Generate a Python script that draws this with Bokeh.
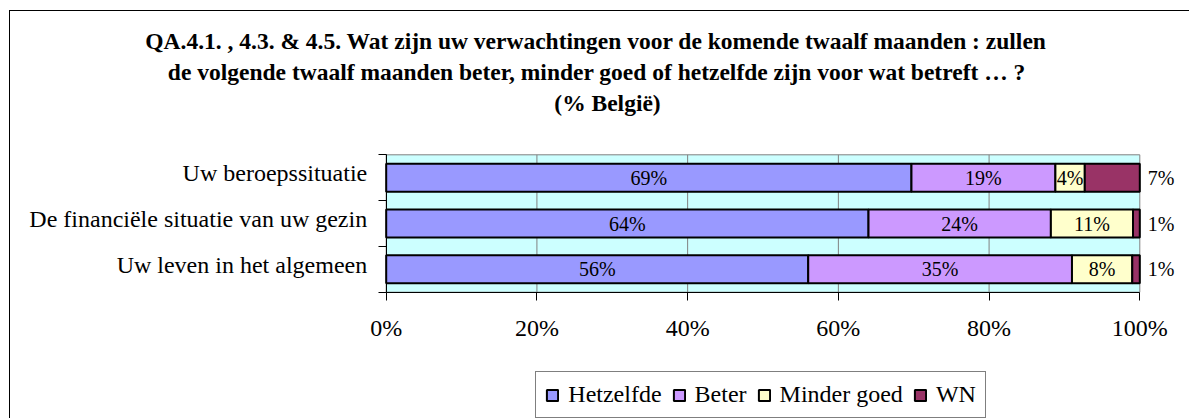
from bokeh.plotting import figure
from bokeh.models import (ColumnDataSource, Range1d, FixedTicker, PrintfTickFormatter,
                          Legend, LegendItem, Label)
from bokeh.core.properties import value
from bokeh.embed import file_html
from bokeh.resources import INLINE

# ---------------- data ----------------
categories = ["Uw beroepssituatie",
              "De financiële situatie van uw gezin",
              "Uw leven in het algemeen"]
series_names = ["Hetzelfde", "Beter", "Minder goed", "WN"]
hetzelfde = [69.7, 64.0, 56.0]
beter = [19.1, 24.2, 35.0]
minder_goed = [3.9, 10.9, 8.0]
wn = [7.3, 0.9, 1.0]
hetzelfde_labels = ["69%", "64%", "56%"]
beter_labels = ["19%", "24%", "35%"]
minder_goed_labels = ["4%", "11%", "8%"]
wn_labels = ["7%", "1%", "1%"]
x_ticks = [0, 20, 40, 60, 80, 100]
title_lines = [
    "QA.4.1. , 4.3. & 4.5. Wat zijn uw verwachtingen voor de komende twaalf maanden : zullen",
    "de volgende twaalf maanden beter, minder goed of hetzelfde zijn voor wat betreft \u2026 ?",
    "(% België)",
]

# ---------------- layout / style ----------------
colors = ["#9999FF", "#CC99FF", "#FFFFCC", "#993366"]
FONT = "Liberation Serif"
W, H = 1180, 408                  # canvas (page origin at 10, 11)
AREA_L, AREA_R = 375.7, 1129.3    # plot-area edges on the canvas (px)
AREA_T, AREA_B = 143.3, 280.7
n = len(categories)
xpx = (AREA_R - AREA_L) / (x_ticks[-1] - x_ticks[0])
ypx = (AREA_B - AREA_T) / n
x_range = Range1d(x_ticks[0] - AREA_L / xpx, x_ticks[0] + (W - AREA_L) / xpx)
y_range = Range1d(-(H - AREA_B) / ypx, n + AREA_T / ypx)
LABEL_SHIFT = 4.5 / ypx           # lift category labels a little (px -> data)

p = figure(width=W, height=H, output_backend="svg", toolbar_location=None,
           x_range=x_range, y_range=y_range,
           min_border_left=0, min_border_right=0,
           min_border_top=0, min_border_bottom=0)
p.styles = {"margin-left": "9px", "margin-top": "10px",
            "border-left": "1px solid black", "border-top": "1px solid black"}
p.background_fill_color = "white"
p.border_fill_color = "white"
p.outline_line_color = None
p.xgrid.grid_line_color = None
p.ygrid.grid_line_color = None

ys = [n - 0.5 - i for i in range(n)]

# plot area (cyan) with grey border, and vertical grid lines
p.quad(left=[x_ticks[0]], right=[x_ticks[-1]], bottom=[0], top=[n],
       fill_color="#CCFFFF", line_color="#808080", line_width=1, level="image")
p.segment(x0=x_ticks[1:-1], y0=[0] * (len(x_ticks) - 2),
          x1=x_ticks[1:-1], y1=[n] * (len(x_ticks) - 2),
          line_color="#808080", line_width=1, level="underlay")

series_vals = [hetzelfde, beter, minder_goed, wn]
series_labels = [hetzelfde_labels, beter_labels, minder_goed_labels, wn_labels]

left = [0.0] * n
renderers = []
for k, (vals, labs) in enumerate(zip(series_vals, series_labels)):
    right = [l + v for l, v in zip(left, vals)]
    src = ColumnDataSource(dict(y=ys, left=left, right=right,
                                mid=[(l + r) / 2 for l, r in zip(left, right)],
                                label=labs))
    r = p.hbar(y="y", left="left", right="right", height=0.61, source=src,
               fill_color=colors[k], line_color="black", line_width=2)
    renderers.append(r)
    if k < 3:
        p.text(x="mid", y="y", text="label", source=src,
               text_font=value(FONT), text_font_size="20px",
               text_align="center", text_baseline="middle", text_color="black")
    else:
        p.text(x="right", y="y", text="label", source=src, x_offset=8,
               text_font=value(FONT), text_font_size="20px",
               text_align="left", text_baseline="middle", text_color="black")
    left = right

# ---------------- axes (fixed inside the canvas) ----------------
xa = p.xaxis[0]
xa.fixed_location = 0
xa.bounds = (x_ticks[0], x_ticks[-1])
xa.ticker = FixedTicker(ticks=x_ticks, minor_ticks=[])
xa.formatter = PrintfTickFormatter(format="%d%%")
xa.major_tick_out = 8
xa.major_tick_in = 0
xa.minor_tick_out = 0
xa.minor_tick_in = 0
xa.axis_line_color = "black"
xa.major_tick_line_color = "black"
xa.major_label_text_font = FONT
xa.major_label_text_font_size = "24px"
xa.major_label_text_color = "black"
xa.major_label_standoff = 15

label_ticks = [y + LABEL_SHIFT for y in ys]
ya = p.yaxis[0]
ya.fixed_location = 0
ya.bounds = (0, n)
ya.ticker = FixedTicker(ticks=label_ticks, minor_ticks=list(range(n + 1)))
ya.major_label_overrides = {t: c for t, c in zip(label_ticks, categories)}
ya.major_tick_line_color = None
ya.major_tick_out = 0
ya.major_tick_in = 0
ya.minor_tick_out = 8
ya.minor_tick_in = 0
ya.minor_tick_line_color = "black"
ya.axis_line_color = "black"
ya.major_label_text_font = FONT
ya.major_label_text_font_size = "24px"
ya.major_label_text_color = "black"
ya.major_label_standoff = 11

# ---------------- legend ----------------
legend = Legend(items=[LegendItem(label=nm, renderers=[r])
                       for nm, r in zip(series_names, renderers)],
                orientation="horizontal", location=(525.3, 1),
                label_text_font=FONT, label_text_font_size="24px",
                label_text_color="black", label_height=26,
                glyph_width=14, glyph_height=14, label_standoff=9,
                spacing=10, padding=9, margin=0,
                border_line_color="black", border_line_width=1,
                background_fill_color="white", background_fill_alpha=1)
p.add_layout(legend)

# ---------------- title ----------------
title_cx = [585.5, 586.5, 597.0]
title_base = [H - 29.5, H - 60.5, H - 91.5]
for txt, cx, by in zip(title_lines, title_cx, title_base):
    p.add_layout(Label(x=cx, y=by, x_units="screen", y_units="screen", text=txt,
                       text_font=FONT, text_font_size="23.5px", text_font_style="bold",
                       text_align="center", text_baseline="alphabetic",
                       text_color="black"))

open("out.html", "w").write(file_html(p, INLINE))
